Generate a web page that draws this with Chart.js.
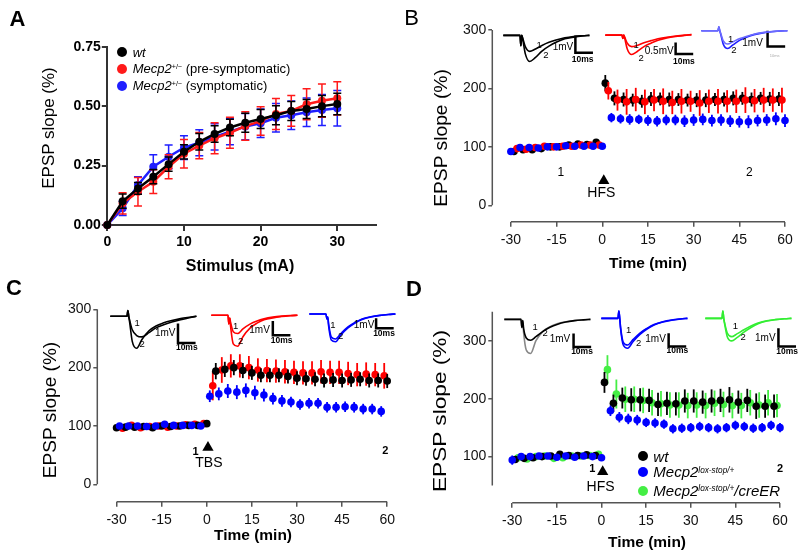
<!DOCTYPE html>
<html>
<head>
<meta charset="utf-8">
<script src="https://cdn.jsdelivr.net/npm/chart.js@4.4.0/dist/chart.umd.min.js"></script>
<style>
  body { margin: 0; background: #fff; font-family: "Liberation Sans", Arial, sans-serif; }
  #fig { position: relative; width: 800px; height: 559px; overflow: hidden; background: #fff; }
  canvas { position: absolute; }
  .t { position: absolute; white-space: nowrap; line-height: 1; transform: translate(-50%, -50%); color: #000; }
  .yt { position: absolute; white-space: nowrap; line-height: 1; color: #000; }
  .dot { position: absolute; width: 10px; height: 10px; border-radius: 50%; transform: translate(-50%, -50%); }
  .lt { position: absolute; white-space: nowrap; line-height: 1; transform: translateY(-50%); color: #000; }
  .sup { position: relative; top: -0.55em; font-size: 0.55em; }
</style>
</head>
<body>
<div id="fig">
  <canvas id="cA" width="400" height="280" style="left:0;top:0"></canvas>
  <canvas id="cB" width="400" height="280" style="left:400px;top:0"></canvas>
  <canvas id="cC" width="400" height="279" style="left:0;top:280px"></canvas>
  <canvas id="cD" width="400" height="279" style="left:400px;top:280px"></canvas>

  <div class="t" style="left:17.5px;top:19px;font-size:22px;font-weight:bold">A</div>
  <div class="t" style="left:411.7px;top:18.3px;font-size:22px">B</div>
  <div class="t" style="left:14px;top:288px;font-size:22px;font-weight:bold">C</div>
  <div class="t" style="left:414px;top:289px;font-size:22px;font-weight:bold">D</div>

  <div class="yt" style="left:48px;top:128px;font-size:17px;transform:translate(-50%,-50%) rotate(-90deg)">EPSP slope (%)</div>
  <div class="t" style="left:240px;top:266px;font-size:16px;font-weight:bold">Stimulus (mA)</div>
  <div class="yt" style="left:441px;top:137.5px;font-size:18px;transform:translate(-50%,-50%) rotate(-90deg) scaleX(1.07)">EPSP slope (%)</div>
  <div class="t" style="left:648px;top:263px;font-size:15.5px;font-weight:bold">Time (min)</div>
  <div class="yt" style="left:50px;top:410px;font-size:18px;transform:translate(-50%,-50%) rotate(-90deg) scaleX(1.06)">EPSP slope (%)</div>
  <div class="t" style="left:253px;top:535px;font-size:15.5px;font-weight:bold">Time (min)</div>
  <div class="yt" style="left:440px;top:411px;font-size:18px;transform:translate(-50%,-50%) rotate(-90deg) scaleX(1.26)">EPSP slope (%)</div>
  <div class="t" style="left:647px;top:542px;font-size:15.5px;font-weight:bold">Time (min)</div>

  <!-- legend A -->
  <span class="dot" style="left:121.7px;top:51.7px;background:#000"></span>
  <div class="lt" style="left:132.7px;top:51.7px;font-size:13px"><i>wt</i></div>
  <span class="dot" style="left:121.7px;top:69.3px;background:#ff1a1a"></span>
  <div class="lt" style="left:132.7px;top:69.3px;font-size:13px"><i>Mecp2</i><span class="sup">+/−</span> (pre-symptomatic)</div>
  <span class="dot" style="left:121.7px;top:86px;background:#1f1fff"></span>
  <div class="lt" style="left:132.7px;top:86px;font-size:13px"><i>Mecp2</i><span class="sup">+/−</span> (symptomatic)</div>

  <!-- legend D -->
  <span class="dot" style="left:642.7px;top:455.7px;background:#000"></span>
  <div class="lt" style="left:653.3px;top:455.7px;font-size:15px"><i>wt</i></div>
  <span class="dot" style="left:642.7px;top:472.3px;background:#0000ff"></span>
  <div class="lt" style="left:653.3px;top:472.3px;font-size:15px"><i>Mecp2</i><i class="sup">lox-stop/+</i></div>
  <span class="dot" style="left:642.7px;top:490.7px;background:#44ee44"></span>
  <div class="lt" style="left:653.3px;top:490.7px;font-size:15px"><i>Mecp2</i><i class="sup">lox-stop/+</i><i>/creER</i></div>
</div>

<script>
// ---------- Panel A: input/output ----------
const stimA = [0, 2, 4, 6, 8, 10, 12, 14, 16, 18, 20, 22, 24, 26, 28, 30];
const wtA = [0, 0.100, 0.154, 0.203, 0.256, 0.308, 0.350, 0.383, 0.410, 0.430, 0.446, 0.462, 0.480, 0.488, 0.500, 0.509];
const wtAErr = [0, 0.03, 0.025, 0.03, 0.03, 0.03, 0.035, 0.035, 0.035, 0.04, 0.04, 0.04, 0.04, 0.04, 0.045, 0.045];
const preA = [0, 0.091, 0.140, 0.182, 0.245, 0.300, 0.334, 0.365, 0.388, 0.416, 0.437, 0.467, 0.480, 0.508, 0.523, 0.533];
const preAErr = [0, 0.045, 0.06, 0.05, 0.05, 0.06, 0.055, 0.065, 0.065, 0.06, 0.06, 0.065, 0.065, 0.065, 0.07, 0.07];
const symA = [0, 0.070, 0.168, 0.245, 0.287, 0.325, 0.346, 0.371, 0.393, 0.414, 0.428, 0.451, 0.462, 0.474, 0.484, 0.491];
const symAErr = [0, 0.03, 0.035, 0.05, 0.05, 0.05, 0.055, 0.055, 0.055, 0.055, 0.06, 0.06, 0.06, 0.06, 0.065, 0.075];
const ticksAx = [0, 10, 20, 30];
const ticksAy = [0, 0.25, 0.5, 0.75];

// ---------- Panels B-D: time course ----------
const timeTicks = [-30, -15, 0, 15, 30, 45, 60];
const ticksBC = [0, 100, 200, 300];
const ticksD = [100, 200, 300];

// B (HFS)
const bWtT = [-29, -26, -23, -20, -17, -14, -11, -8, -5, -2, 1, 4, 7, 10, 13, 16, 19, 22, 25, 28, 31, 34, 37, 40, 43, 46, 49, 52, 55, 58];
const bWt = [92, 95, 95, 97, 100, 100, 103, 105, 104, 108, 209, 183, 181, 180, 178, 182, 182, 181, 181, 180, 180, 180, 181, 181, 183, 183, 181, 183, 182, 182];
const bWtE = [3, 3, 3, 3, 3, 3, 3, 3, 3, 3, 14, 12, 12, 11, 11, 12, 11, 12, 11, 11, 12, 12, 11, 12, 12, 11, 12, 11, 12, 12];
const bPreT = [-28, -25, -22, -19, -16, -13, -10, -7, -4, -1, 2, 5, 8, 11, 14, 17, 20, 23, 26, 29, 32, 35, 38, 41, 44, 47, 50, 53, 56, 59];
const bPre = [97, 96, 99, 101, 100, 101, 101, 103, 103, 103, 196, 180, 177, 181, 177, 180, 178, 176, 178, 178, 175, 178, 178, 178, 178, 180, 179, 180, 180, 180];
const bPreE = [3, 3, 3, 3, 3, 3, 3, 3, 3, 3, 15, 18, 22, 20, 21, 19, 22, 20, 21, 18, 22, 20, 21, 19, 20, 22, 20, 21, 20, 21];
const bSymT = [-30, -27, -24, -21, -18, -15, -12, -9, -6, -3, 0, 3, 6, 9, 12, 15, 18, 21, 24, 27, 30, 33, 36, 39, 42, 45, 48, 51, 54, 57, 60];
const bSym = [92, 99, 99, 98, 100, 100, 102, 101, 101, 101, 101, 150, 148, 147, 147, 145, 144, 146, 146, 144, 146, 147, 145, 146, 144, 143, 143, 145, 146, 148, 145];
const bSymE = [3, 3, 3, 3, 3, 3, 3, 3, 3, 3, 3, 8, 8, 9, 8, 9, 9, 9, 9, 10, 10, 10, 10, 10, 10, 10, 11, 10, 10, 11, 11];

// C (TBS)
const cWtT = [-30, -27, -24, -21, -18, -15, -12, -9, -6, -3, 0, 3, 6, 9, 12, 15, 18, 21, 24, 27, 30, 33, 36, 39, 42, 45, 48, 51, 54, 57, 60];
const cWt = [97, 98, 98, 99, 97, 100, 99, 100, 101, 101, 104, 194, 197, 200, 195, 191, 187, 187, 187, 185, 182, 181, 180, 178, 179, 178, 179, 180, 178, 178, 177];
const cWtE = [3, 3, 3, 3, 3, 3, 3, 3, 3, 3, 3, 14, 13, 13, 13, 12, 12, 12, 12, 12, 12, 12, 12, 12, 12, 12, 12, 12, 12, 12, 12];
const cPreT = [-28, -25, -22, -19, -16, -13, -10, -7, -4, -1, 2, 5, 8, 11, 14, 17, 20, 23, 26, 29, 32, 35, 38, 41, 44, 47, 50, 53, 56, 59];
const cPre = [96, 101, 97, 99, 100, 98, 100, 102, 103, 104, 169, 196, 203, 203, 200, 196, 195, 194, 193, 192, 191, 191, 193, 192, 192, 190, 188, 189, 188, 186];
const cPreE = [3, 3, 3, 3, 3, 3, 3, 3, 3, 3, 25, 22, 20, 20, 20, 20, 20, 20, 20, 20, 20, 20, 20, 20, 20, 20, 20, 20, 20, 22];
const cSymT = [-29, -26, -23, -20, -17, -14, -11, -8, -5, -2, 1, 4, 7, 10, 13, 16, 19, 22, 25, 28, 31, 34, 37, 40, 43, 46, 49, 52, 55, 58];
const cSym = [100, 100, 100, 99, 100, 103, 101, 101, 101, 100, 151, 155, 160, 158, 161, 157, 153, 147, 143, 141, 137, 139, 139, 132, 132, 133, 132, 129, 129, 125];
const cSymE = [3, 3, 3, 3, 3, 3, 3, 3, 3, 3, 10, 11, 12, 12, 12, 12, 11, 10, 10, 9, 9, 9, 9, 9, 9, 9, 9, 9, 9, 9];

// D (HFS, rescue)
const dWtT = [-29, -26, -23, -20, -17, -14, -11, -8, -5, -2, 1, 4, 7, 10, 13, 16, 19, 22, 25, 28, 31, 34, 37, 40, 43, 46, 49, 52, 55, 58];
const dWt = [95, 97, 98, 100, 101, 104, 102, 102, 103, 102, 228, 192, 201, 198, 198, 197, 190, 192, 191, 196, 196, 194, 196, 197, 198, 194, 197, 187, 187, 187];
const dWtE = [3, 3, 3, 3, 3, 3, 3, 3, 3, 3, 18, 15, 18, 20, 20, 20, 20, 20, 20, 20, 20, 20, 20, 20, 22, 20, 20, 22, 20, 20];
const dCreT = [-28, -25, -22, -19, -16, -13, -10, -7, -4, -1, 2, 5, 8, 11, 14, 17, 20, 23, 26, 29, 32, 35, 38, 41, 44, 47, 50, 53, 56, 59];
const dCre = [98, 96, 100, 101, 97, 98, 101, 101, 102, 104, 250, 208, 199, 199, 197, 193, 191, 189, 189, 188, 189, 188, 192, 190, 188, 188, 193, 189, 193, 188];
const dCreE = [3, 3, 3, 3, 3, 3, 3, 3, 3, 3, 25, 25, 22, 22, 22, 22, 22, 22, 22, 22, 22, 22, 22, 22, 22, 22, 22, 22, 22, 20];
const dLoxT = [-30, -27, -24, -21, -18, -15, -12, -9, -6, -3, 0, 3, 6, 9, 12, 15, 18, 21, 24, 27, 30, 33, 36, 39, 42, 45, 48, 51, 54, 57, 60];
const dLox = [94, 100, 100, 101, 101, 99, 101, 99, 101, 100, 98, 179, 168, 165, 163, 159, 158, 156, 148, 149, 150, 152, 150, 148, 150, 154, 152, 149, 150, 154, 150];
const dLoxE = [8, 3, 3, 3, 3, 3, 3, 3, 3, 3, 3, 9, 9, 9, 9, 8, 8, 8, 8, 8, 8, 8, 8, 8, 8, 8, 8, 8, 8, 8, 8];

// stimulus markers (min, %)
const stimB = { t: 0.5, v: 42 };
const stimC = { t: 0.4, v: 63 };
const stimD = { t: 0.4, v: 74 };

// ---------- example traces (ms, mV) ----------
const traceMs = [0, 9.5, 10, 10.5, 11, 12.5, 15, 18, 22, 26, 30, 35, 40, 45, 49];
const trBwt1 = [0, 0, -0.6, 0, -0.14, -0.65, -0.92, -0.8, -0.58, -0.4, -0.27, -0.14, -0.06, -0.02, 0];
const trBwt2 = [0, 0, -0.6, 0, -0.2, -1.05, -1.5, -1.3, -0.9, -0.62, -0.4, -0.2, -0.1, -0.03, 0];
const trBpre1 = [0, 0, -0.15, 0, -0.08, -0.35, -0.5, -0.45, -0.33, -0.24, -0.16, -0.09, -0.04, 0, 0.02];
const trBpre2 = [0, 0, -0.15, 0, -0.12, -0.6, -0.84, -0.72, -0.5, -0.35, -0.22, -0.12, -0.06, -0.02, 0.02];
const trBsym1 = [0, 0, 0.25, 0, -0.15, -0.65, -0.85, -0.7, -0.5, -0.35, -0.22, -0.12, -0.05, -0.02, 0];
const trBsym2 = [0, 0, 0.25, 0, -0.2, -0.85, -1.13, -0.9, -0.6, -0.4, -0.25, -0.14, -0.07, -0.02, 0];
const trCwt1 = [0, 0, 0.3, 0, -0.2, -0.7, -1.0, -1.07, -0.85, -0.6, -0.45, -0.3, -0.18, -0.08, 0];
const trCwt2 = [0, 0, 0.3, 0, -0.3, -1.3, -1.66, -1.2, -0.75, -0.5, -0.35, -0.22, -0.12, -0.05, 0];
const trCpre1 = [0, 0, -0.6, -0.2, -0.5, -1.15, -1.28, -0.95, -0.62, -0.4, -0.25, -0.13, -0.06, -0.02, 0];
const trCpre2 = [0, 0, -0.6, -0.2, -0.8, -2.0, -2.17, -1.5, -0.9, -0.55, -0.32, -0.18, -0.09, -0.03, 0];
const trCsym1 = [0, 0, -0.5, -0.3, -1.0, -2.3, -2.5, -1.95, -1.3, -0.85, -0.5, -0.28, -0.14, -0.05, 0];
const trCsym2 = [0, 0, -0.5, -0.3, -1.2, -2.6, -2.77, -2.1, -1.4, -0.9, -0.55, -0.3, -0.15, -0.05, 0];
const trDwt1 = [0, 0, -0.6, -0.1, -0.7, -1.4, -1.57, -1.3, -0.9, -0.6, -0.38, -0.2, -0.1, -0.04, 0];
const trDwt2 = [0, 0, -0.6, -0.1, -1.0, -2.3, -2.56, -1.6, -0.9, -0.55, -0.33, -0.18, -0.09, -0.03, 0];
const trDlox1 = [0, 0, 0.55, 0, -0.7, -1.8, -2.0, -1.6, -1.1, -0.75, -0.47, -0.26, -0.13, -0.05, 0];
const trDlox2 = [0, 0, 0.55, 0, -0.8, -2.0, -2.24, -1.75, -1.2, -0.8, -0.5, -0.28, -0.14, -0.05, 0];
const trDcre1 = [0, 0, 0.4, 0, -0.25, -0.8, -1.0, -0.85, -0.62, -0.42, -0.26, -0.13, -0.06, -0.02, 0];
const trDcre2 = [0, 0, 0.4, 0, -0.3, -1.0, -1.23, -1.05, -0.75, -0.5, -0.3, -0.15, -0.07, -0.02, 0];

// ---------- helpers ----------
Chart.defaults.font.family = '"Liberation Sans", Arial, sans-serif';
Chart.defaults.color = '#000';
const axisGrey = '#555';
const FONT = '"Liberation Sans", Arial, sans-serif';

const pts = (xs, ys) => xs.map((x, i) => ({ x: x, y: ys[i] }));

// vertical error bars drawn under each dataset's own points
Chart.register({
  id: 'errorBars',
  beforeDatasetDraw(chart, args) {
    const ds = chart.data.datasets[args.index];
    if (!ds.errors) return;
    const meta = args.meta, ctx = chart.ctx, ys = meta.yScale;
    ctx.save();
    ctx.strokeStyle = ds.errorColor || ds.borderColor;
    ctx.lineWidth = ds.errorWidth || 1.8;
    meta.data.forEach((el, i) => {
      const e = ds.errors[i];
      if (!e) return;
      const v = ds.data[i].y;
      const top = ys.getPixelForValue(v + e), bot = ys.getPixelForValue(v - e);
      const c = ds.cap || 0;
      ctx.beginPath();
      ctx.moveTo(el.x, top); ctx.lineTo(el.x, bot);
      if (c) {
        ctx.moveTo(el.x - c, top); ctx.lineTo(el.x + c, top);
        ctx.moveTo(el.x - c, bot); ctx.lineTo(el.x + c, bot);
      }
      ctx.stroke();
    });
    ctx.restore();
  }
});

function notesPlugin(items) {
  return {
    id: 'notes',
    afterDatasetsDraw(chart) {
      const { ctx, scales: { x, y } } = chart;
      ctx.save();
      items.forEach(n => {
        ctx.font = n.font;
        ctx.fillStyle = n.color || '#000';
        ctx.textAlign = n.align || 'center';
        ctx.textBaseline = 'middle';
        ctx.fillText(n.text, x.getPixelForValue(n.x), y.getPixelForValue(n.y));
      });
      ctx.restore();
    }
  };
}

// detached Prism-style axis lines
function axisLinesPlugin(xr, yr) {
  return {
    id: 'axisLines',
    beforeDatasetsDraw(chart) {
      const { ctx, chartArea: a, scales: { x, y } } = chart;
      ctx.save();
      ctx.strokeStyle = axisGrey;
      ctx.lineWidth = 1.5;
      ctx.beginPath();
      ctx.moveTo(a.left, y.getPixelForValue(yr[0]));
      ctx.lineTo(a.left, y.getPixelForValue(yr[1]));
      ctx.moveTo(x.getPixelForValue(xr[0]), a.bottom);
      ctx.lineTo(x.getPixelForValue(xr[1]), a.bottom);
      ctx.stroke();
      ctx.restore();
    }
  };
}

function dots(ts, vs, es, color, order) {
  return {
    data: pts(ts, vs), errors: es, order: order,
    backgroundColor: color, borderColor: color,
    pointRadius: 3.8, pointBorderWidth: 0, showLine: false, clip: false
  };
}

function arrow(s) {
  return {
    data: [{ x: s.t, y: s.v }], pointStyle: 'triangle', pointRadius: 6.5,
    backgroundColor: '#000', borderColor: '#000', pointBorderWidth: 0, showLine: false, clip: false, order: 0
  };
}

function timeChart(id, cfg, datasets, notes) {
  return new Chart(document.getElementById(id), {
    type: 'scatter',
    data: { datasets: datasets },
    options: {
      responsive: false, animation: false, events: [],
      layout: { padding: { top: cfg.padTop, right: cfg.padRight, left: 0, bottom: 0 } },
      plugins: { legend: { display: false }, tooltip: { enabled: false } },
      scales: {
        x: {
          type: 'linear', min: cfg.xMin, max: 60,
          afterBuildTicks: s => { s.ticks = timeTicks.map(v => ({ value: v })); },
          afterFit: s => { s.height = cfg.xH; },
          grid: { drawOnChartArea: false, tickLength: 5, color: axisGrey, lineWidth: 1.5 },
          border: { display: false },
          ticks: { padding: 5, color: '#111', font: { size: 14 }, autoSkip: false, maxRotation: 0 }
        },
        y: {
          min: cfg.yMin, max: cfg.yMax,
          afterBuildTicks: s => { s.ticks = cfg.yTicks.map(v => ({ value: v })); },
          afterFit: s => { s.width = cfg.yW; },
          grid: { drawOnChartArea: false, tickLength: 4, color: axisGrey, lineWidth: 1.5 },
          border: { display: false },
          ticks: { padding: 2, color: '#111', font: { size: 14 } }
        }
      }
    },
    plugins: [axisLinesPlugin([-30, 60], cfg.yLine), notesPlugin(notes)]
  });
}

// ---------- Panel A ----------
function ioSeries(ys, es, color, order) {
  return {
    data: pts(stimA, ys), errors: es, cap: 4, errorWidth: 1.5, order: order,
    borderColor: color, backgroundColor: color, borderWidth: 2.5,
    pointRadius: 4, pointBorderWidth: 0, showLine: true, clip: false
  };
}
new Chart(document.getElementById('cA'), {
  type: 'scatter',
  data: { datasets: [
    ioSeries(symA, symAErr, '#1f1fff', 3),
    ioSeries(preA, preAErr, '#ff1a1a', 2),
    ioSeries(wtA, wtAErr, '#000', 1)
  ] },
  options: {
    responsive: false, animation: false, events: [],
    layout: { padding: { top: 46.7, right: 24.4, left: 0, bottom: 0 } },
    plugins: { legend: { display: false }, tooltip: { enabled: false } },
    scales: {
      x: {
        type: 'linear', min: 0, max: 35,
        afterBuildTicks: s => { s.ticks = ticksAx.map(v => ({ value: v })); },
        afterFit: s => { s.height = 55; },
        grid: { drawOnChartArea: false, tickLength: 6, color: '#333', lineWidth: 2 },
        border: { display: true, color: '#333', width: 2 },
        ticks: { padding: 3, font: { size: 14, weight: 'bold' }, autoSkip: false, maxRotation: 0 }
      },
      y: {
        min: 0, max: 0.75,
        afterBuildTicks: s => { s.ticks = ticksAy.map(v => ({ value: v })); },
        afterFit: s => { s.width = 107.3; },
        grid: { drawOnChartArea: false, tickLength: 5.5, color: '#333', lineWidth: 2 },
        border: { display: true, color: '#333', width: 2 },
        ticks: { padding: 1, font: { size: 14, weight: 'bold' }, callback: v => v.toFixed(2) }
      }
    }
  }
});

// ---------- Panels B-D ----------
const noteNum = '12px ' + FONT;
const noteBold = 'bold 11px ' + FONT;
const noteStim = '14px ' + FONT;

timeChart('cB',
  { padTop: 30, padRight: 15, xMin: -36.1, xH: 58.3, yMin: -28.1, yMax: 300, yW: 92.3, yTicks: ticksBC, yLine: [0, 300] },
  [dots(bWtT, bWt, bWtE, '#000', 3), dots(bPreT, bPre, bPreE, '#ff0000', 2), dots(bSymT, bSym, bSymE, '#0000ff', 1), arrow(stimB)],
  [{ x: -13.6, y: 56, text: '1', font: noteNum }, { x: 48.3, y: 55, text: '2', font: noteNum },
   { x: -0.3, y: 21.6, text: 'HFS', font: noteStim }]);

timeChart('cC',
  { padTop: 29.3, padRight: 10, xMin: -36.4, xH: 57.3, yMin: -29.8, yMax: 300, yW: 97.3, yTicks: ticksBC, yLine: [0, 300] },
  [dots(cWtT, cWt, cWtE, '#000', 2), dots(cPreT, cPre, cPreE, '#ff0000', 3), dots(cSymT, cSym, cSymE, '#0000ff', 1), arrow(stimC)],
  [{ x: -3.7, y: 56, text: '1', font: noteBold }, { x: 59.4, y: 57, text: '2', font: noteBold },
   { x: 0.7, y: 37, text: 'TBS', font: noteStim }]);

timeChart('cD',
  { padTop: 31.7, padRight: 20, xMin: -36.7, xH: 56.3, yMin: 20.5, yMax: 350, yW: 92.3, yTicks: ticksD, yLine: [50, 350] },
  [dots(dWtT, dWt, dWtE, '#000', 2), dots(dCreT, dCre, dCreE, '#44ee44', 3), dots(dLoxT, dLox, dLoxE, '#0000ff', 1), arrow(stimD)],
  [{ x: -3.1, y: 78, text: '1', font: noteBold }, { x: 60, y: 78, text: '2', font: noteBold },
   { x: -0.3, y: 47, text: 'HFS', font: noteStim }]);

// ---------- trace insets ----------
const msPx = 1.75, msMin = -3, msMax = 55, mvMin = -3.2, mvMax = 1.0;
const fig = document.getElementById('fig');
const smallF = '10px ' + FONT, numF = '9.5px ' + FONT, msF = 'bold 8.5px ' + FONT;

function inset(c) {
  const cv = document.createElement('canvas');
  cv.width = Math.round((msMax - msMin) * msPx);
  cv.height = Math.round((mvMax - mvMin) * c.mv);
  cv.style.left = (c.left + msMin * msPx) + 'px';
  cv.style.top = (c.base - mvMax * c.mv) + 'px';
  fig.appendChild(cv);
  const [bx, bb, bh] = c.bar;
  const line = (d, col, w) => ({ data: d, borderColor: col, borderWidth: w, pointRadius: 0, showLine: true,
    cubicInterpolationMode: 'monotone', clip: false });
  new Chart(cv, {
    type: 'scatter',
    data: { datasets: [
      line(pts(traceMs, c.t1), c.c1, 1.6),
      line(pts(traceMs, c.t2), c.c2, 1.6),
      { data: [{ x: bx, y: bb + bh }, { x: bx, y: bb }, { x: bx + 10, y: bb }], borderColor: '#000', borderWidth: 2.5,
        pointRadius: 0, showLine: true, clip: false }
    ] },
    options: {
      responsive: false, animation: false, events: [], layout: { padding: 0 },
      plugins: { legend: { display: false }, tooltip: { enabled: false } },
      scales: { x: { display: false, min: msMin, max: msMax }, y: { display: false, min: mvMin, max: mvMax } }
    },
    plugins: [notesPlugin([
      { x: c.n1[0], y: c.n1[1], text: '1', font: numF },
      { x: c.n2[0], y: c.n2[1], text: '2', font: numF },
      { x: c.nmv[0], y: c.nmv[1], text: c.mvText, font: smallF, align: 'right' },
      { x: c.nms[0], y: c.nms[1], text: '10ms', font: c.msFont || msF, color: c.msColor || '#000' }
    ])]
  });
}

[
  { left: 503.3, base: 35.3, mv: 17.4, t1: trBwt1, t2: trBwt2, c1: '#000', c2: '#000', bar: [41, -1.0, 1], mvText: '1mV',
    n1: [20.4, -0.57], n2: [24.2, -1.15], nmv: [39.8, -0.67], nms: [45.1, -1.4] },
  { left: 605, base: 35.3, mv: 23.2, t1: trBpre1, t2: trBpre2, c1: '#ff0000', c2: '#ff0000', bar: [40, -0.82, 0.5], mvText: '0.5mV',
    n1: [17.5, -0.43], n2: [20.4, -1.01], nmv: [38.9, -0.72], nms: [44.7, -1.15] },
  { left: 701.7, base: 30.3, mv: 15.7, t1: trBsym1, t2: trBsym2, c1: '#6a6aff', c2: '#1f1fff', bar: [37.7, -1.0, 1], mvText: '1mV',
    n1: [16.7, -0.54], n2: [18.6, -1.27], nmv: [35, -0.79], nms: [41.7, -1.6], msFont: '4px ' + FONT, msColor: '#aaa' },
  { left: 110, base: 316, mv: 19.4, t1: trCwt1, t2: trCwt2, c1: '#000', c2: '#000', bar: [38.5, -1.38, 1], mvText: '1mV',
    n1: [15.3, -0.35], n2: [18.1, -1.44], nmv: [37.1, -0.88], nms: [43.5, -1.65] },
  { left: 211.7, base: 315, mv: 14.3, t1: trCpre1, t2: trCpre2, c1: '#ff0000', c2: '#ff0000', bar: [35, -1.4, 1], mvText: '1mV',
    n1: [13.9, -0.77], n2: [16.7, -1.8], nmv: [33.3, -1.05], nms: [40, -1.8] },
  { left: 309.3, base: 314, mv: 10, t1: trCsym1, t2: trCsym2, c1: '#0000ff', c2: '#0000ff', bar: [38, -1.43, 1], mvText: '1mV',
    n1: [13.4, -1.1], n2: [17.9, -2.27], nmv: [37, -1.1], nms: [42.5, -1.95] },
  { left: 504.3, base: 319, mv: 13.4, t1: trDwt1, t2: trDwt2, c1: '#000', c2: '#888', bar: [39.4, -2.07, 1], mvText: '1mV',
    n1: [17.5, -0.57], n2: [23.3, -1.07], nmv: [37.5, -1.51], nms: [44.2, -2.4] },
  { left: 601, base: 318.3, mv: 13.4, t1: trDlox1, t2: trDlox2, c1: '#0000ff', c2: '#0000ff', bar: [38.3, -2.12, 1], mvText: '1mV',
    n1: [15.6, -0.87], n2: [21.3, -1.87], nmv: [36.7, -1.57], nms: [43.3, -2.45] },
  { left: 705, base: 318.3, mv: 18.4, t1: trDcre1, t2: trDcre2, c1: '#33ee33', c2: '#33ee33', bar: [41.6, -1.54, 1], mvText: '1mV',
    n1: [17.1, -0.42], n2: [21.5, -1.05], nmv: [40, -1.07], nms: [46.6, -1.8] }
].forEach(inset);
</script>
</body>
</html>
